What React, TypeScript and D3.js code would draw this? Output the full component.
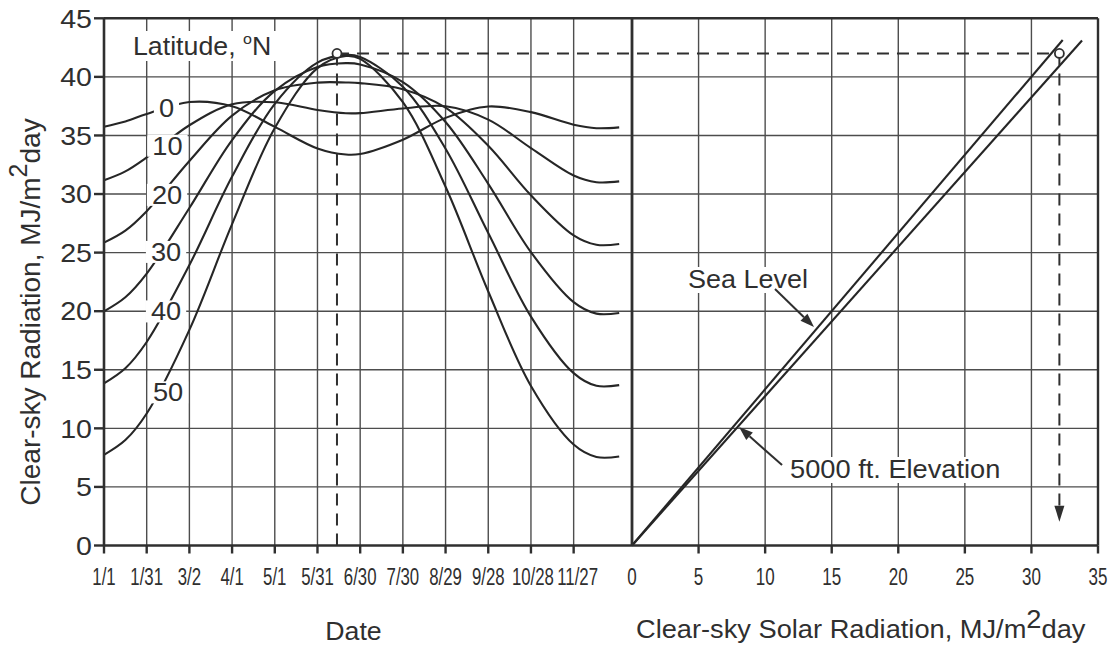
import React from "react";
import * as d3 from "d3";

// ---------------- data ----------------
const dateTickDays = [0, 30, 60, 90, 120, 150, 180, 210, 240, 270, 300, 330];
const dateTickLabels = ["1/1", "1/31", "3/2", "4/1", "5/1", "5/31", "6/30", "7/30", "8/29", "9/28", "10/28", "11/27"];
const radiationTicks = [0, 5, 10, 15, 20, 25, 30, 35, 40, 45];
const solarTicks = [0, 5, 10, 15, 20, 25, 30, 35];

// day of year (0 = Jan 1) at which curve values were read
const curveDays = [0, 15, 30, 60, 90, 120, 150, 170, 180, 210, 240, 270, 300, 330, 346, 362];
const lat0 = [35.75, 36.2, 36.83, 37.85, 37.49, 35.73, 33.89, 33.37, 33.42, 34.64, 36.5, 37.47, 36.99, 35.92, 35.62, 35.69];
const lat10 = [31.17, 31.93, 33.12, 35.87, 37.66, 37.83, 37.18, 36.9, 36.91, 37.3, 37.49, 36.35, 33.92, 31.58, 31.01, 31.08];
const lat20 = [25.85, 26.87, 28.53, 32.82, 36.69, 38.86, 39.51, 39.52, 39.47, 38.95, 37.37, 34.12, 29.89, 26.47, 25.67, 25.73];
const lat30 = [19.99, 21.19, 23.21, 28.81, 34.61, 38.81, 40.85, 41.17, 41.06, 39.56, 36.15, 30.87, 25.04, 20.77, 19.79, 19.85];
const lat40 = [13.84, 15.13, 17.37, 23.94, 31.49, 37.7, 41.22, 41.88, 41.7, 39.16, 33.87, 26.67, 19.54, 14.71, 13.63, 13.69];
const lat50 = [7.74, 9.0, 11.27, 18.41, 27.43, 35.63, 40.75, 41.78, 41.54, 37.84, 30.62, 21.68, 13.62, 8.62, 7.56, 7.6];

const latitudeLabels = ["0", "10", "20", "30", "40", "50"];
const latitudeSeries = [lat0, lat10, lat20, lat30, lat40, lat50];
const labelDays = [43.9, 44.6, 44.3, 43.6, 43.6, 45.0];
const labelValues = [37.36, 34.12, 29.93, 25.06, 19.98, 13.07];

// right panel lines (Rs vs Ra)
const seaLevelRs = [0, 32.35];
const seaLevelRa = [0, 43.15];
const elevationRs = [0, 33.8];
const elevationRa = [0, 43.1];

// worked example
const exampleDay = 163.7;
const exampleRa = 42;
const exampleRs = 32.1;
const exampleArrowEnd = 2.03;

// annotations (data units of right panel)
const seaText = { rs: 4.206, ra: 21.98, label: "Sea Level" };
const elevText = { rs: 11.867, ra: 5.761, label: "5000 ft. Elevation" };
const seaArrow = { rs1: 10.74, ra1: 21.89, rs2: 13.67, ra2: 18.65 };
const elevArrow = { rs1: 11.27, ra1: 6.87, rs2: 8.04, ra2: 10.11 };

// ---------------- drawing ----------------
const FONT = "'Liberation Sans', Arial, Helvetica, sans-serif";
const INK = "#2f2f2f";
const GRID = "#4d4d4d";

function T(props: {
  x: number; y: number; size: number; sx?: number; rotate?: number;
  anchor?: "start" | "middle" | "end"; children: React.ReactNode;
}) {
  const { x, y, size, sx = 1, rotate = 0, anchor = "start", children } = props;
  return (
    <text
      transform={`translate(${x},${y}) rotate(${rotate}) scale(${sx},1)`}
      fontSize={size}
      fontFamily={FONT}
      textAnchor={anchor}
      fill={INK}
    >
      {children}
    </text>
  );
}

function Arrow({ x1, y1, x2, y2, len = 14, half = 5 }: { x1: number; y1: number; x2: number; y2: number; len?: number; half?: number }) {
  const a = Math.atan2(y2 - y1, x2 - x1);
  const bx = x2 - len * Math.cos(a);
  const by = y2 - len * Math.sin(a);
  const px = -Math.sin(a) * half;
  const py = Math.cos(a) * half;
  return (
    <g>
      <line x1={x1} y1={y1} x2={bx} y2={by} stroke={INK} strokeWidth={2} />
      <polygon points={`${x2},${y2} ${bx + px},${by + py} ${bx - px},${by - py}`} fill={INK} />
    </g>
  );
}

export default function App() {
  const W = 1113;
  const H = 651;
  const xD = d3.scaleLinear().domain([0, 371]).range([104, 632]);
  const xR = d3.scaleLinear().domain([0, 35]).range([632, 1098]);
  const y = d3.scaleLinear().domain([0, 45]).range([545.5, 18.3]);

  const left = xD(0);
  const mid = xR(0);
  const right = xR(35);
  const top = y(45);
  const bottom = y(0);

  const line = d3
    .line<[number, number]>()
    .x((d) => xD(d[0]))
    .y((d) => y(d[1]))
    .curve(d3.curveCatmullRom.alpha(0.5));

  const rline = d3
    .line<[number, number]>()
    .x((d) => xR(d[0]))
    .y((d) => y(d[1]));

  const exX = xD(exampleDay);
  const exY = y(exampleRa);
  const exRX = xR(exampleRs);

  const digitW = 25 * 0.556 * 1.09;

  return (
    <svg width={W} height={H} style={{ position: "absolute", left: 0, top: 0, background: "#fff" }}>
      <rect x={0} y={0} width={W} height={H} fill="#fff" />

      {/* horizontal grid */}
      {radiationTicks.slice(1, -1).map((v) => (
        <line key={"h" + v} x1={left} x2={right} y1={y(v)} y2={y(v)} stroke={GRID} strokeWidth={1.4} />
      ))}
      {/* vertical grid left */}
      {dateTickDays.slice(1).map((d) => (
        <line key={"vl" + d} x1={xD(d)} x2={xD(d)} y1={top} y2={bottom} stroke={GRID} strokeWidth={1.4} />
      ))}
      {/* vertical grid right */}
      {solarTicks.slice(1, -1).map((v) => (
        <line key={"vr" + v} x1={xR(v)} x2={xR(v)} y1={top} y2={bottom} stroke={GRID} strokeWidth={1.4} />
      ))}

      {/* latitude curves */}
      {latitudeSeries.map((s, i) => (
        <path
          key={"c" + i}
          d={line(curveDays.map((d, j) => [d, s[j]] as [number, number])) || ""}
          fill="none"
          stroke="#262626"
          strokeWidth={2.1}
        />
      ))}

      {/* right panel lines */}
      <path d={rline(seaLevelRs.map((v, j) => [v, seaLevelRa[j]] as [number, number])) || ""} stroke="#262626" strokeWidth={2.1} fill="none" />
      <path d={rline(elevationRs.map((v, j) => [v, elevationRa[j]] as [number, number])) || ""} stroke="#262626" strokeWidth={2.1} fill="none" />

      {/* latitude labels with knockout */}
      {latitudeLabels.map((lab, i) => {
        const cx = xD(labelDays[i]);
        const cy = y(labelValues[i]);
        const w = lab.length * digitW;
        return (
          <g key={"ll" + i}>
            <rect x={cx - w / 2 - 5} y={cy - 11} width={w + 10} height={22} fill="#fff" />
            <T x={cx} y={cy + 9} size={25} sx={1.09} anchor="middle">{lab}</T>
          </g>
        );
      })}

      {/* Latitude title */}
      <rect x={129} y={31} width={147} height={30} fill="#fff" />
      <text transform="translate(133,55) scale(1.07,1)" fontSize={25} fontFamily={FONT} fill={INK}>
        Latitude,{" "}
        <tspan fontSize={15} dy={-11}>o</tspan>
        <tspan dy={11}>N</tspan>
      </text>

      {/* annotation knockouts and texts */}
      <rect x={xR(seaText.rs) - 3} y={y(seaText.ra) - 21} width={126} height={26} fill="#fff" />
      <T x={xR(seaText.rs)} y={y(seaText.ra)} size={25} sx={1.08}>{seaText.label}</T>
      <rect x={xR(elevText.rs) - 3} y={y(elevText.ra) - 21} width={216} height={26} fill="#fff" />
      <T x={xR(elevText.rs)} y={y(elevText.ra)} size={25} sx={1.09}>{elevText.label}</T>

      <Arrow x1={xR(seaArrow.rs1)} y1={y(seaArrow.ra1)} x2={xR(seaArrow.rs2)} y2={y(seaArrow.ra2)} />
      <Arrow x1={xR(elevArrow.rs1)} y1={y(elevArrow.ra1)} x2={xR(elevArrow.rs2)} y2={y(elevArrow.ra2)} />

      {/* dashed example path */}
      <line x1={exX} x2={exX} y1={exY} y2={bottom} stroke={INK} strokeWidth={2} strokeDasharray="12,8" />
      <line x1={exX} x2={exRX} y1={exY} y2={exY} stroke={INK} strokeWidth={2} strokeDasharray="12,8" />
      <line x1={exRX} x2={exRX} y1={exY} y2={y(exampleArrowEnd) - 14} stroke={INK} strokeWidth={2} strokeDasharray="12,8" />
      <polygon
        points={`${exRX},${y(exampleArrowEnd)} ${exRX - 5},${y(exampleArrowEnd) - 16} ${exRX + 5},${y(exampleArrowEnd) - 16}`}
        fill={INK}
      />

      {/* frame / axes */}
      <line x1={left} x2={right} y1={top} y2={top} stroke={INK} strokeWidth={2.6} />
      <line x1={left} x2={right} y1={bottom} y2={bottom} stroke={INK} strokeWidth={2.6} />
      <line x1={left} x2={left} y1={top} y2={bottom} stroke={INK} strokeWidth={2.6} />
      <line x1={mid} x2={mid} y1={top} y2={bottom} stroke={INK} strokeWidth={2.8} />
      <line x1={right} x2={right} y1={top} y2={bottom} stroke={INK} strokeWidth={2.4} />

      {/* ticks */}
      {radiationTicks.map((v) => (
        <line key={"yt" + v} x1={left - 10} x2={left} y1={y(v)} y2={y(v)} stroke={INK} strokeWidth={2.4} />
      ))}
      {dateTickDays.map((d) => (
        <line key={"xt" + d} x1={xD(d)} x2={xD(d)} y1={bottom} y2={bottom + 8} stroke={INK} strokeWidth={2.4} />
      ))}
      {solarTicks.slice(1).map((v) => (
        <line key={"rt" + v} x1={xR(v)} x2={xR(v)} y1={bottom} y2={bottom + 8} stroke={INK} strokeWidth={2.4} />
      ))}

      {/* circles */}
      <circle cx={exX} cy={exY} r={4.5} fill="#fff" stroke={INK} strokeWidth={1.8} />
      <circle cx={exRX} cy={exY} r={4.5} fill="#fff" stroke={INK} strokeWidth={1.8} />

      {/* tick labels */}
      {radiationTicks.map((v) => (
        <T key={"yl" + v} x={92} y={y(v) + 9.3} size={26} sx={1.1} anchor="end">{String(v)}</T>
      ))}
      {dateTickDays.map((d, i) => (
        <T key={"xl" + d} x={xD(d) + (i >= 10 ? (i - 9) * 2 : 0)} y={585} size={23} sx={0.73} anchor="middle">{dateTickLabels[i]}</T>
      ))}
      {solarTicks.map((v) => (
        <T key={"rl" + v} x={xR(v)} y={585} size={23} sx={0.74} anchor="middle">{String(v)}</T>
      ))}

      {/* axis titles */}
      <T x={353.5} y={640} size={25} sx={1.07} anchor="middle">Date</T>
      <text transform="translate(636,638) scale(1.09,1)" fontSize={25} fontFamily={FONT} fill={INK}>
        Clear-sky Solar Radiation, MJ/m
        <tspan dy={-10}>2</tspan>
        <tspan dy={10}>day</tspan>
      </text>
      <text transform="translate(40,312) rotate(-90)" fontSize={28} fontFamily={FONT} fill={INK} textAnchor="middle">
        Clear-sky Radiation, MJ/m
        <tspan dy={-13} fontSize={25}>2</tspan>
        <tspan dy={13}>day</tspan>
      </text>
    </svg>
  );
}
